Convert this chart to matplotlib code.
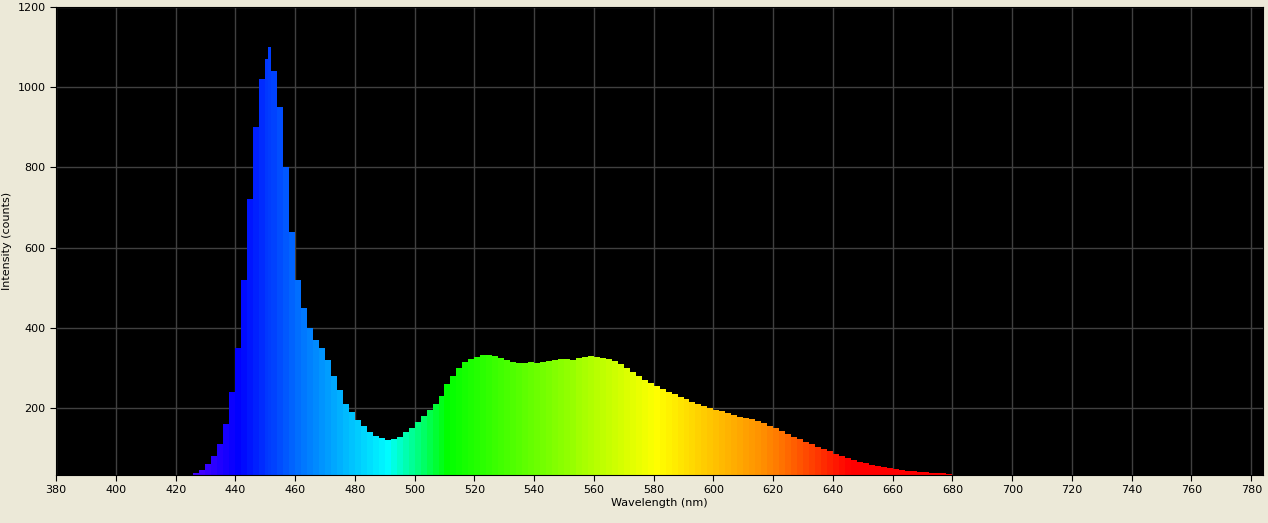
import numpy as np
import matplotlib
matplotlib.use("Agg")
import matplotlib.pyplot as plt
from matplotlib.colors import LinearSegmentedColormap

# spectrum, 2 nm steps (451 is the peak)
wl = [426, 428, 430, 432, 434, 436, 438, 440, 442, 444, 446, 448, 450, 451, 452, 454, 456, 458,
      460, 462, 464, 466, 468, 470, 472, 474, 476, 478, 480, 482, 484, 486, 488, 490, 492, 494,
      496, 498, 500, 502, 504, 506, 508, 510, 512, 514, 516, 518, 520, 522, 524, 526, 528, 530,
      532, 534, 536, 538, 540, 542, 544, 546, 548, 550, 552, 554, 556, 558, 560, 562, 564, 566,
      568, 570, 572, 574, 576, 578, 580, 582, 584, 586, 588, 590, 592, 594, 596, 598, 600, 602,
      604, 606, 608, 610, 612, 614, 616, 618, 620, 622, 624, 626, 628, 630, 632, 634, 636, 638,
      640, 642, 644, 646, 648, 650, 652, 654, 656, 658, 660, 662, 664, 666, 668, 670, 672, 674,
      676, 678]
counts = [38, 45, 60, 80, 110, 160, 240, 350, 520, 720, 900, 1020, 1070, 1100, 1040, 950, 800, 640,
          520, 450, 400, 370, 350, 320, 280, 245, 210, 190, 170, 155, 140, 130, 125, 120, 122, 128,
          140, 150, 165, 180, 195, 210, 230, 260, 280, 300, 315, 322, 328, 332, 333, 330, 325, 320,
          315, 312, 313, 315, 312, 315, 318, 320, 322, 322, 320, 325, 328, 330, 328, 325, 322, 318,
          310, 300, 290, 280, 270, 262, 255, 248, 240, 235, 228, 222, 215, 210, 205, 200, 196, 192,
          188, 183, 178, 175, 172, 168, 162, 156, 150, 143, 136, 128, 122, 116, 110, 104, 98, 92,
          86, 80, 75, 70, 66, 62, 58, 55, 52, 50, 48, 46, 44, 42, 41, 40, 39, 38,
          37, 36]

# wavelength -> colour
stops = [(428, "#4000ff"), (440, "#0000ff"), (460, "#0070ff"), (490, "#00ffff"),
         (510, "#00ff00"), (580, "#ffff00"), (620, "#ff8000"), (645, "#ff0000"), (680, "#ff0000")]
lo, hi = stops[0][0], stops[-1][0]
cmap = LinearSegmentedColormap.from_list("spec", [((w - lo) / (hi - lo), c) for w, c in stops])

bg = "#ece9d8"
fig = plt.figure(figsize=(12.68, 5.23), dpi=100, facecolor=bg)
ax = fig.add_axes([0.0442, 0.0918, 0.952, 0.895])
ax.set_facecolor("black")

x = np.array(wl, dtype=float)
y = np.array(counts, dtype=float)
w = np.diff(np.append(x, x[-1] + 2))
cols = [cmap(np.clip((v - lo) / (hi - lo), 0, 1)) for v in x]
ax.bar(x, y, width=w, align="edge", color=cols, linewidth=0)

ax.set_xlim(380, 784)
ax.set_ylim(33, 1200)
ax.set_xticks(range(380, 781, 20))
ax.set_yticks(range(200, 1201, 200))
ax.grid(True, color="#404040", linewidth=1)
ax.set_axisbelow(True)
ax.tick_params(labelsize=8, length=4, direction="out")
for s in ax.spines.values():
    s.set_color("black")
ax.set_xlabel("Wavelength (nm)", fontsize=8, labelpad=2)
ax.set_ylabel("Intensity (counts)", fontsize=8, labelpad=4)

fig.savefig("out.png", dpi=100, facecolor=bg)
